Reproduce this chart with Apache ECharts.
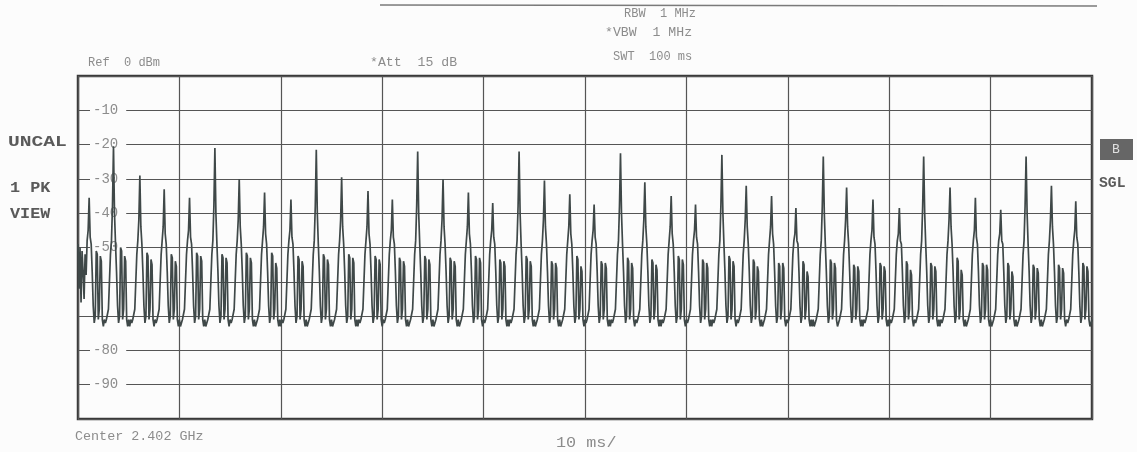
<!DOCTYPE html>
<html>
<head>
<meta charset="utf-8">
<script src="https://cdn.jsdelivr.net/npm/echarts@6/dist/echarts.min.js"></script>
<style>
html,body{margin:0;padding:0;background:#fcfcfc;}
#chart{width:1137px;height:452px;}
</style>
</head>
<body>
<div id="chart"></div>
<script>
// Sweep: 1001 trace points, 100 ms span (10 ms/div)
const sweepTimeMs = 100;
const sweepPoints = 1001;
// Y tick labels printed inside the graticule (others hidden by the trace)
const yTickLabels = ['-10', '-20', '-30', '-40', '-50', '-80', '-90'];
// Trace 1 (dBm), one row per hop burst period
const trace = [
-49,-62,-50,-66,-51,
-57,-65,-52,-58,-48,-45,-35.5,-47,-49,-57,-67,-72,-70,-51,-52,-71,-68,-52.5,-54,-71,-73,-71,-72,-71,
-71,-68,-60,-52,-48,-38,-20.5,-40,-49,-57,-67,-72,-70,-50,-51,-71,-68,-52.5,-54,-71,-73,-71,-73,-71,-72,-71,
-71,-68,-60,-52,-48,-42,-29,-44,-49,-57,-67,-72,-70,-51.5,-52.5,-71,-68,-53.5,-55,-71,-73,-71,-72,-71,
-71,-68,-60,-52,-48,-44,-33,-46,-49,-57,-67,-72,-70,-52,-53,-71,-68,-54,-55.5,-71,-73,-71,-73,-72,-71,
-71,-68,-60,-52,-48,-45,-35.5,-47,-49,-57,-67,-72,-70,-51.5,-52.5,-71,-68,-52.5,-54,-71,-73,-71,-73,-72,-71,
-71,-68,-60,-52,-48,-38,-21,-40,-49,-57,-67,-72,-70,-52,-53,-71,-68,-53,-54.5,-71,-73,-71,-72,-71,
-71,-68,-60,-52,-48,-42,-30,-44,-49,-57,-67,-72,-70,-51.5,-52.5,-71,-68,-53,-54.5,-71,-73,-71,-73,-72,-71,
-71,-68,-60,-52,-48,-44,-34,-46,-49,-57,-67,-72,-70,-51.5,-52.5,-71,-68,-54.5,-56,-71,-73,-71,-73,-71,-72,-71,
-71,-68,-60,-52,-48,-45,-36,-47,-49,-57,-67,-72,-70,-52.5,-53.5,-71,-68,-54,-55.5,-71,-73,-71,-73,-72,-71,
-71,-68,-60,-52,-48,-38,-21.5,-40,-49,-57,-67,-72,-70,-52,-53,-71,-68,-53.5,-55,-71,-73,-71,-73,-72,-71,
-71,-68,-60,-52,-48,-42,-29.5,-44,-49,-57,-67,-72,-70,-52,-53,-71,-68,-53,-54.5,-71,-73,-71,-73,-71,-72,-71,
-71,-68,-60,-52,-48,-44,-33.5,-46,-49,-57,-67,-72,-70,-52.5,-53.5,-71,-68,-53.5,-55,-71,-73,-71,-72,-71,
-71,-68,-60,-52,-48,-45,-36,-47,-49,-57,-67,-72,-70,-53,-54,-71,-68,-54,-55.5,-71,-73,-71,-73,-72,-71,
-71,-68,-60,-52,-48,-38,-22,-40,-49,-57,-67,-72,-70,-52.5,-53.5,-71,-68,-53.5,-55,-71,-73,-71,-73,-72,-71,
-71,-68,-60,-52,-48,-42,-30,-44,-49,-57,-67,-72,-70,-53,-54,-71,-68,-54,-55.5,-71,-73,-71,-73,-72,-71,
-71,-68,-60,-52,-48,-44,-34,-46,-49,-57,-67,-72,-70,-52.5,-53.5,-71,-68,-53,-54.5,-71,-73,-71,-72,-71,
-71,-68,-60,-52,-48,-45,-37,-47,-49,-57,-67,-72,-70,-53.5,-54.5,-71,-68,-54,-55.5,-71,-73,-71,-73,-71,-72,-71,
-71,-68,-60,-52,-48,-38,-22,-40,-49,-57,-67,-72,-70,-52.5,-53.5,-71,-68,-54,-55.5,-71,-73,-71,-73,-72,-71,
-71,-68,-60,-52,-48,-42,-30.5,-44,-49,-57,-67,-72,-70,-54,-55,-71,-68,-54.5,-56,-71,-73,-71,-73,-72,-71,
-71,-68,-60,-52,-48,-44,-34.5,-46,-49,-57,-67,-72,-70,-52.5,-53.5,-71,-68,-55.5,-57,-71,-73,-71,-72,-71,
-71,-68,-60,-52,-48,-45,-37.5,-47,-49,-57,-67,-72,-70,-54,-55,-71,-68,-54.5,-56,-71,-73,-71,-73,-71,-72,-71,
-71,-68,-60,-52,-48,-38,-22.5,-40,-49,-57,-67,-72,-70,-53,-54,-71,-68,-54.5,-56,-71,-73,-71,-72,-71,
-71,-68,-60,-52,-48,-42,-31,-44,-49,-57,-67,-72,-70,-53.5,-54.5,-71,-68,-55,-56.5,-71,-73,-71,-73,-71,-72,-71,
-71,-68,-60,-52,-48,-44,-35,-46,-49,-57,-67,-72,-70,-52.5,-53.5,-71,-68,-53.5,-55,-71,-73,-71,-72,-71,
-71,-68,-60,-52,-48,-45,-37.5,-47,-49,-57,-67,-72,-70,-53.5,-54.5,-71,-68,-54.5,-56,-71,-73,-71,-73,-71,-72,-71,
-71,-68,-60,-52,-48,-38,-23,-40,-49,-57,-67,-72,-70,-52.5,-53.5,-71,-68,-54,-55.5,-71,-73,-71,-72,-71,
-71,-68,-60,-52,-48,-42,-32,-44,-49,-57,-67,-72,-70,-53.5,-54.5,-71,-68,-55.5,-57,-71,-73,-71,-73,-72,-71,
-71,-68,-60,-52,-48,-44,-35,-46,-49,-57,-67,-72,-70,-54.5,-55.5,-71,-68,-54.5,-56,-71,-73,-71,-72,-71,
-71,-68,-60,-52,-48,-46,-38.5,-48,-49,-57,-67,-72,-70,-54,-55,-71,-68,-57,-58.5,-71,-73,-71,-73,-71,-73,-72,-71,
-71,-68,-60,-52,-48,-38,-23.5,-40,-49,-57,-67,-72,-70,-53.5,-54.5,-71,-68,-54.5,-56,-71,-73,-72,-71,
-71,-68,-60,-52,-48,-42,-32.5,-44,-49,-57,-67,-72,-70,-55,-56,-71,-68,-55.5,-57,-71,-73,-71,-73,-71,-72,-71,
-71,-68,-60,-52,-48,-45,-36,-47,-49,-57,-67,-72,-70,-54.5,-55.5,-71,-68,-55.5,-57,-71,-73,-71,-73,-71,-72,-71,
-71,-68,-60,-52,-48,-46,-38.5,-48,-49,-57,-67,-72,-70,-54,-55,-71,-68,-56.5,-58,-71,-73,-71,-72,-71,
-71,-68,-60,-52,-48,-38,-23.5,-40,-49,-57,-67,-72,-70,-54.5,-55.5,-71,-68,-55.5,-57,-71,-73,-71,-73,-71,-72,-71,
-71,-68,-60,-52,-48,-42,-32.5,-44,-49,-57,-67,-72,-70,-53,-54,-71,-68,-56.5,-58,-71,-73,-71,-73,-72,-71,
-71,-68,-60,-52,-48,-45,-35.5,-47,-49,-57,-67,-72,-70,-54.5,-55.5,-71,-68,-55,-56.5,-71,-73,-71,-73,-72,-71,
-71,-68,-60,-52,-48,-46,-39,-48,-49,-57,-67,-72,-70,-54.5,-55.5,-71,-68,-57,-58.5,-71,-73,-71,-73,-72,-71,
-71,-68,-60,-52,-48,-38,-23.5,-40,-49,-57,-67,-72,-70,-55,-56,-71,-68,-56,-57.5,-71,-73,-71,-73,-72,-71,
-71,-68,-60,-52,-48,-42,-32,-44,-49,-57,-67,-72,-70,-55,-56,-71,-68,-56,-57.5,-71,-73,-71,-72,-71,
-71,-68,-60,-52,-48,-45,-36.5,-47,-49,-57,-67,-72,-70,-54.5,-55.5,-71,-68,-55.5,-57,-71,-73,-72,-71
];

const stepMs = sweepTimeMs / (sweepPoints - 1);
const mono = "'Liberation Mono', 'DejaVu Sans Mono', monospace";
const chart = echarts.init(document.getElementById('chart'), null, {renderer: 'canvas'});

function txt(x, y, text, size, fill, opts) {
  opts = opts || {};
  return {
    type: 'text', x: x, y: y, scaleX: opts.sx || 1, z: 10,
    style: {
      text: text, fontFamily: mono, fontSize: size, fill: fill,
      fontWeight: opts.bold ? 'bold' : 'normal',
      align: opts.align || 'left', verticalAlign: 'middle'
    }
  };
}

chart.setOption({
  animation: false,
  backgroundColor: '#fcfcfc',
  grid: {left: 78, right: 45, top: 76, bottom: 33, show: true, borderColor: '#3a3a3a', borderWidth: 2.5, backgroundColor: 'transparent'},
  xAxis: {
    type: 'value', min: 0, max: sweepTimeMs, interval: 10,
    axisLine: {show: false}, axisTick: {show: false}, axisLabel: {show: false},
    splitLine: {show: true, lineStyle: {color: '#555', width: 1.2}}
  },
  yAxis: {
    type: 'value', min: -100, max: 0, interval: 10,
    axisLine: {show: false}, axisTick: {show: false},
    splitLine: {show: true, lineStyle: {color: '#555', width: 1.2}},
    axisLabel: {
      inside: true, margin: 12,
      formatter: v => yTickLabels.includes(String(v)) ? '{w|' + v + '}' : '',
      rich: {w: {fontFamily: mono, fontSize: 14, color: '#8c8c8c', backgroundColor: '#fcfcfc', padding: [1, 8, 1, 3]}}
    }
  },
  series: [{
    type: 'line', symbol: 'none', z: 3,
    data: trace.map((v, i) => [i * stepMs, v]),
    lineStyle: {color: '#3f4848', width: 1.7}
  }],
  graphic: [
    {type: 'line', z: 10, shape: {x1: 380, y1: 5, x2: 1097, y2: 6}, style: {stroke: '#7a7a7a', lineWidth: 1.5}},
    txt(624, 14, 'RBW  1 MHz', 12, '#8c8c8c'),
    txt(605, 33, '*VBW  1 MHz', 12, '#8c8c8c', {sx: 1.1}),
    txt(613, 57, 'SWT  100 ms', 12, '#8c8c8c'),
    txt(88, 63, 'Ref  0 dBm', 12, '#8c8c8c'),
    txt(370, 63, '*Att  15 dB', 12, '#8c8c8c', {sx: 1.1}),
    txt(8, 142, 'UNCAL', 14, '#5a5a5a', {bold: true, sx: 1.4}),
    txt(10, 188, '1 PK', 14, '#5a5a5a', {bold: true, sx: 1.2}),
    txt(10, 214, 'VIEW', 14, '#5a5a5a', {bold: true, sx: 1.2}),
    {type: 'rect', z: 10, shape: {x: 1100, y: 139, width: 33, height: 21}, style: {fill: '#666'}},
    txt(1116, 150, 'B', 13, '#e0e0e0', {align: 'center'}),
    txt(1099, 183, 'SGL', 14, '#5a5a5a', {bold: true, sx: 1.05}),
    txt(75, 437, 'Center 2.402 GHz', 13, '#8c8c8c', {sx: 1.03}),
    txt(556, 443, '10 ms/', 14, '#8c8c8c', {sx: 1.2})
  ]
});
</script>
</body>
</html>
